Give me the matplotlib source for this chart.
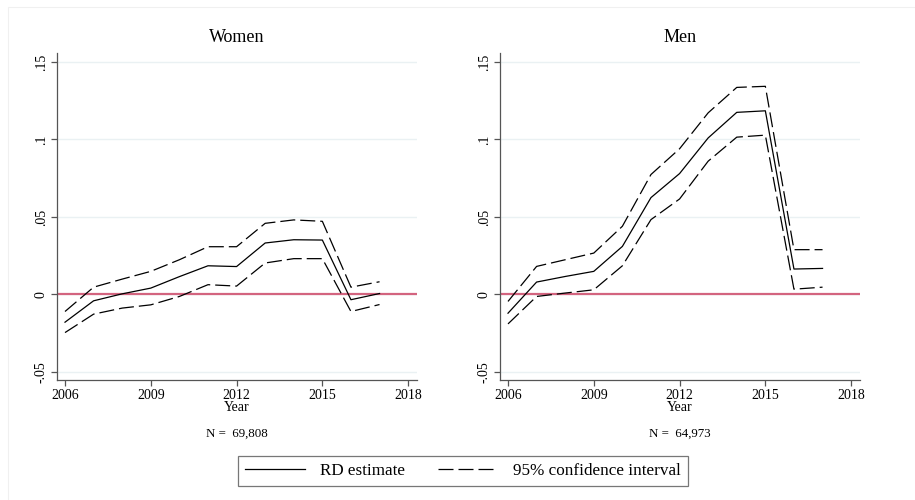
import matplotlib
matplotlib.use("Agg")
import matplotlib.pyplot as plt
from matplotlib.lines import Line2D
from matplotlib.patches import Rectangle

years = [2006, 2007, 2008, 2009, 2010, 2011, 2012, 2013, 2014, 2015, 2016, 2017]

women_est = [-0.0179, -0.0041, 0.0004, 0.0041, 0.0115, 0.0185, 0.0180, 0.0332, 0.0353, 0.0351, -0.0034, 0.0006]
women_hi = [-0.0110, 0.0047, 0.0099, 0.0149, 0.0224, 0.0308, 0.0308, 0.0459, 0.0481, 0.0472, 0.0047, 0.0082]
women_lo = [-0.0246, -0.0127, -0.0088, -0.0067, -0.0013, 0.0063, 0.0054, 0.0203, 0.0231, 0.0231, -0.0110, -0.0065]

men_est = [-0.0121, 0.0080, 0.0116, 0.0149, 0.0310, 0.0625, 0.0780, 0.1010, 0.1175, 0.1185, 0.0164, 0.0168]
men_hi = [-0.0045, 0.0181, 0.0224, 0.0267, 0.0440, 0.0774, 0.0940, 0.1172, 0.1336, 0.1343, 0.0289, 0.0289]
men_lo = [-0.0190, -0.0013, 0.0009, 0.0030, 0.0185, 0.0483, 0.0616, 0.0860, 0.1015, 0.1028, 0.0034, 0.0047]

panels = ["Women", "Men"]
n_labels = ["N =  69,808", "N =  64,973"]
xticks = [2006, 2009, 2012, 2015, 2018]
yticks = [-0.05, 0, 0.05, 0.1, 0.15]
ytick_labels = ["-.05", "0", ".05", ".1", ".15"]
legend_labels = ["RD estimate", "95% confidence interval"]

plt.rcParams['font.family'] = ['Liberation Serif', 'DejaVu Serif']

fig = plt.figure(figsize=(9.15, 5.0), dpi=100)
fig.patch.set_facecolor("white")

# faint outer frame (Stata graph region border)
fig.add_artist(Rectangle((8/915, -0.05), 1.2, 1 - 7/500 + 0.05, transform=fig.transFigure,
                         fill=False, edgecolor="#f0f0f0", lw=0.8))

axis_col = "#555555"
zero_col = "#d3647f"
grid_col = "#eaf1f3"
dash = (12, 4)
tick_fs = 10

lefts = [57/915, 500/915]
w = 360/915
bottom = 1 - 380/500
h = (380 - 53)/500

data = [(women_est, women_hi, women_lo), (men_est, men_hi, men_lo)]

for i, (title, nlab, (est, hi, lo)) in enumerate(zip(panels, n_labels, data)):
    ax = fig.add_axes([lefts[i], bottom, w, h])
    ax.set_xlim(2005.72, 2018.31)
    ax.set_ylim(-0.0552, 0.1558)
    for yv in yticks:
        ax.axhline(yv, color=grid_col, lw=1.0, zorder=0)
    ax.axhline(0, color=zero_col, lw=1.6, zorder=1)
    ax.plot(years, est, color="black", lw=0.9, zorder=3)
    ax.plot(years, hi, color="black", lw=0.9, dashes=dash, zorder=3)
    ax.plot(years, lo, color="black", lw=0.9, dashes=dash, zorder=3)
    for s in ["top", "right"]:
        ax.spines[s].set_visible(False)
    for s in ["left", "bottom"]:
        ax.spines[s].set_color(axis_col)
        ax.spines[s].set_linewidth(0.9)
    ax.set_xticks(xticks)
    ax.set_xticklabels([str(x) for x in xticks], fontsize=tick_fs)
    ax.set_yticks(yticks)
    ax.set_yticklabels(ytick_labels, fontsize=tick_fs, rotation=90, va="center")
    ax.tick_params(axis="both", color=axis_col, length=4, width=0.9, pad=2.5)
    ax.set_xlabel("Year", fontsize=tick_fs, labelpad=-1)
    ax.set_title(title, fontsize=13, pad=8)
    cx = lefts[i] + w/2
    fig.text(cx, 1 - 434/500, nlab, fontsize=9.3, ha="center", va="center")

handles = [Line2D([], [], color="black", lw=0.9),
           Line2D([], [], color="black", lw=0.9, dashes=dash)]
leg = fig.legend(handles, legend_labels, loc="center", bbox_to_anchor=(463/915, 1 - 471/500),
                 ncol=2, fontsize=12.3, frameon=True, fancybox=False, handlelength=3.5,
                 handletextpad=0.9, columnspacing=1.9, borderpad=0.4, borderaxespad=0)
leg.get_frame().set_edgecolor(axis_col)
leg.get_frame().set_linewidth(0.9)

fig.savefig("out.png", dpi=100, facecolor="white")
